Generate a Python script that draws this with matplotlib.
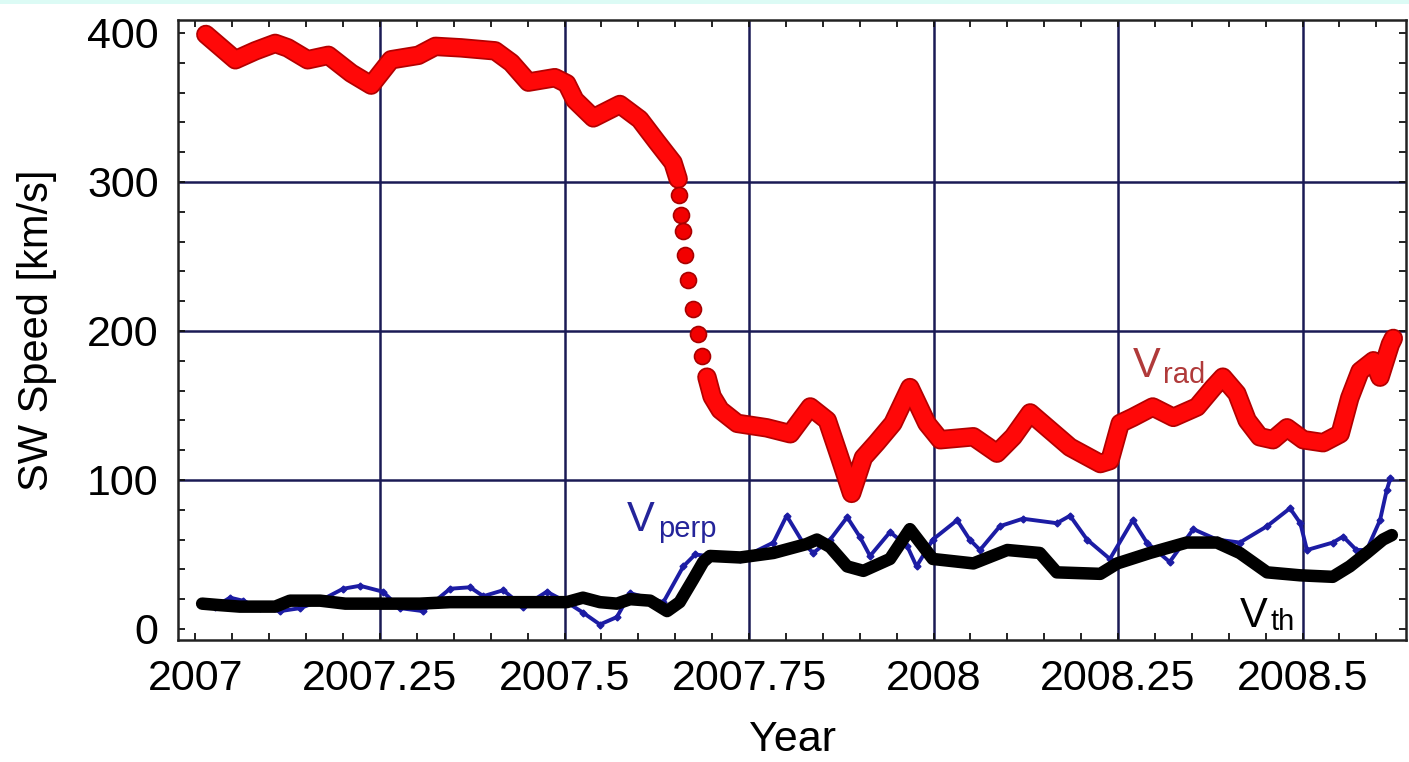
import matplotlib.pyplot as plt
from matplotlib.patches import Rectangle
from matplotlib.ticker import MultipleLocator, FixedLocator

plt.rcParams['font.family'] = ['Liberation Sans', 'DejaVu Sans']

# radial solar wind speed, slow decline before the drop
rad_years_a = [2007.014, 2007.054, 2007.081, 2007.108, 2007.125, 2007.152, 2007.180,
               2007.211, 2007.238, 2007.265, 2007.302, 2007.325, 2007.360, 2007.406,
               2007.428, 2007.451, 2007.487, 2007.503, 2007.514, 2007.539, 2007.575,
               2007.602, 2007.625, 2007.647, 2007.654]
rad_speed_a = [399, 382, 388, 393, 390, 382, 385,
               373, 365, 382, 385, 391, 390, 388,
               380, 367, 370, 366, 355, 343, 352,
               342, 327, 313, 302]

# single days during the fast drop
rad_years_drop = [2007.655, 2007.658, 2007.661, 2007.663, 2007.667, 2007.674,
                  2007.681, 2007.686]
rad_speed_drop = [291, 278, 267, 251, 234, 215, 198, 183]

# after the drop
rad_years_b = [2007.693, 2007.700, 2007.711, 2007.734, 2007.774, 2007.806, 2007.833,
               2007.856, 2007.873, 2007.889, 2007.905, 2007.923, 2007.945, 2007.968,
               2007.991, 2008.009, 2008.054, 2008.086, 2008.108, 2008.131, 2008.185,
               2008.226, 2008.239, 2008.253, 2008.270, 2008.297, 2008.325, 2008.357,
               2008.379, 2008.392, 2008.411, 2008.425, 2008.442, 2008.460, 2008.479,
               2008.501, 2008.528, 2008.551, 2008.564, 2008.578, 2008.596, 2008.605,
               2008.619, 2008.623]
rad_speed_b = [169, 156, 147, 138, 135, 131, 149,
               140, 115, 91, 115, 125, 138, 162,
               138, 127, 129, 118, 129, 145, 122,
               111, 113, 138, 142, 149, 142, 149,
               162, 169, 158, 140, 129, 127, 135,
               127, 125, 131, 155, 173, 180, 169,
               191, 195]

# perpendicular speed
perp_years = [2007.010, 2007.026, 2007.047, 2007.064, 2007.087, 2007.115, 2007.142,
              2007.169, 2007.200, 2007.223, 2007.254, 2007.277, 2007.308, 2007.345,
              2007.372, 2007.390, 2007.417, 2007.444, 2007.476, 2007.503, 2007.525,
              2007.548, 2007.571, 2007.589, 2007.634, 2007.661, 2007.677, 2007.693,
              2007.738, 2007.783, 2007.801, 2007.823, 2007.837, 2007.860, 2007.883,
              2007.900, 2007.914, 2007.941, 2007.964, 2007.977, 2007.999, 2008.032,
              2008.049, 2008.063, 2008.090, 2008.121, 2008.167, 2008.185, 2008.208,
              2008.239, 2008.270, 2008.289, 2008.320, 2008.352, 2008.384, 2008.415,
              2008.452, 2008.483, 2008.497, 2008.506, 2008.541, 2008.555, 2008.573,
              2008.587, 2008.605, 2008.614, 2008.619]
perp_speed = [18, 15, 21, 19, 14, 12, 14,
              19, 27, 29, 25, 14, 12, 27,
              28, 22, 26, 15, 25, 18, 11,
              3, 8, 24, 18, 42, 50, 49,
              47, 58, 76, 58, 51, 60, 75,
              62, 49, 65, 56, 42, 60, 73,
              60, 53, 69, 74, 71, 76, 60,
              47, 73, 58, 45, 67, 60, 58,
              69, 81, 71, 53, 58, 62, 53,
              53, 73, 93, 101]

# thermal speed
th_years = [2007.009, 2007.033, 2007.060, 2007.108, 2007.128, 2007.169, 2007.203,
            2007.254, 2007.304, 2007.345, 2007.413, 2007.467, 2007.503, 2007.525,
            2007.548, 2007.571, 2007.589, 2007.616, 2007.639, 2007.656, 2007.674,
            2007.688, 2007.697, 2007.738, 2007.783, 2007.828, 2007.842, 2007.860,
            2007.883, 2007.905, 2007.941, 2007.968, 2007.999, 2008.054, 2008.100,
            2008.144, 2008.167, 2008.226, 2008.249, 2008.293, 2008.343, 2008.384,
            2008.415, 2008.452, 2008.497, 2008.541, 2008.564, 2008.587, 2008.609,
            2008.621]
th_speed = [17, 16, 15, 15, 19, 19, 17,
            17, 17, 18, 18, 18, 18, 21,
            18, 17, 20, 19, 12, 18, 33,
            45, 49, 48, 51, 57, 60, 55,
            42, 39, 47, 67, 47, 44, 53,
            51, 38, 37, 44, 51, 58, 58,
            51, 38, 36, 35, 42, 51, 60,
            63]

x_ticks = [2007, 2007.25, 2007.5, 2007.75, 2008, 2008.25, 2008.5]
x_tick_labels = ['2007', '2007.25', '2007.5', '2007.75', '2008', '2008.25', '2008.5']
y_ticks = [0, 100, 200, 300, 400]
x_grid = [2007.25, 2007.5, 2007.75, 2008, 2008.25, 2008.5]
y_grid = [100, 200, 300]

W, H = 1409, 762
fig = plt.figure(figsize=(W / 100, H / 100), dpi=100)
fig.patches.append(Rectangle((0, 1 - 4 / H), 1, 4 / H, transform=fig.transFigure,
                             facecolor='#dcfbf5', edgecolor='none', zorder=0))
ax = fig.add_axes([178 / W, 1 - 640 / H, 1228 / W, 620 / H])

ax.set_xlim(2006.9763, 2008.6402)
ax.set_ylim(-7.4, 408.7)

for gx in x_grid:
    ax.axvline(gx, color='#1a1a55', lw=1.8, zorder=1)
for gy in y_grid:
    ax.axhline(gy, color='#1a1a55', lw=1.8, zorder=1)

round_style = dict(solid_capstyle='round', solid_joinstyle='round')

# V_perp
ax.plot(perp_years, perp_speed, color='#1c1ca4', lw=2.8, marker='D', ms=3.5,
        zorder=3, **round_style)

# V_th
ax.plot(th_years, th_speed, color='black', lw=9, zorder=4, **round_style)

# V_rad: thick band with a darker rim, separate dots through the drop
for xs, ys in [(rad_years_a, rad_speed_a), (rad_years_b, rad_speed_b)]:
    ax.plot(xs, ys, color='#b30000', lw=14, zorder=5, **round_style)
    ax.plot(xs, ys, color='#ff0808', lw=11.5, zorder=6, **round_style)
ax.plot(rad_years_drop, rad_speed_drop, 'o', ms=11.5, mfc='#f20000', mec='#a80000',
        mew=1.2, zorder=6)

# series labels
ax.text(2008.270, 169, 'V', fontsize=30, color='#b03a3a', va='baseline', zorder=7)
ax.text(2008.311, 165, 'rad', fontsize=21, color='#b03a3a', va='baseline', zorder=7)
ax.text(2007.585, 66, 'V', fontsize=30, color='#24249a', va='baseline', zorder=7)
ax.text(2007.627, 62, 'perp', fontsize=21, color='#24249a', va='baseline', zorder=7)
ax.text(2008.415, 1.3, 'V', fontsize=30, color='black', va='baseline', zorder=7)
ax.text(2008.456, -0.7, 'th', fontsize=21, color='black', va='baseline', zorder=7)

ax.xaxis.set_major_locator(FixedLocator(x_ticks))
ax.set_xticklabels(x_tick_labels)
ax.xaxis.set_minor_locator(MultipleLocator(0.05))
ax.yaxis.set_major_locator(FixedLocator(y_ticks))
ax.yaxis.set_minor_locator(MultipleLocator(20))

ax.tick_params(which='both', direction='in', top=True, right=True,
               length=5, width=1.3, color='#111111')
ax.tick_params(axis='x', which='major', labelsize=31, pad=14)
ax.tick_params(axis='y', which='major', labelsize=31, pad=14)

for sp in ax.spines.values():
    sp.set_linewidth(1.8)
    sp.set_color('#222222')

ax.set_xlabel('Year', fontsize=31)
ax.xaxis.set_label_coords(0.5, (640 - 740) / 620, transform=ax.transAxes)
ax.xaxis.label.set_va('center')
ax.set_ylabel('SW Speed [km/s]', fontsize=30)
ax.yaxis.set_label_coords((37 - 178) / 1228, 0.5, transform=ax.transAxes)
ax.yaxis.label.set_va('center')

fig.savefig('out.png', dpi=100)
